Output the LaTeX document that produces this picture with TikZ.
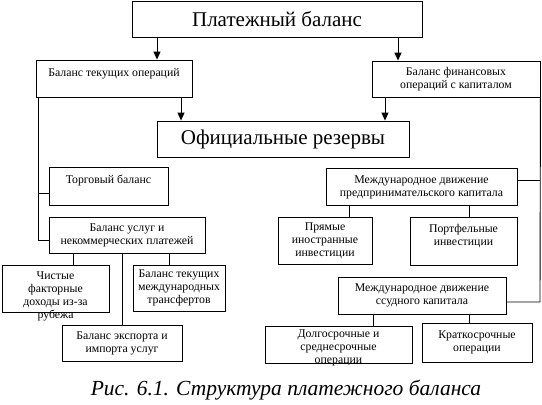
\documentclass[tikz,border=0pt]{standalone}
\usepackage{fontspec}
\setmainfont{Liberation Serif}
\usetikzlibrary{arrows.meta}
\tikzset{
  box/.style={draw,line width=0.9pt,inner sep=1pt,align=center,font=\fontsize{11.8}{13}\selectfont},
  bigbox/.style={box,font=\fontsize{21}{24}\selectfont},
  boxtext/.style={inner sep=0pt,align=center,font=\fontsize{11.8}{13}\selectfont},
  arrowline/.style={-{Triangle[length=8pt,width=7pt]},line width=0.9pt},
  linkline/.style={line width=0.9pt},
}

\begin{document}
\begin{tikzpicture}[x=1pt,y=-1pt]
    \useasboundingbox (0,0) rectangle (542,405);

    \node[bigbox,minimum width=290pt,minimum height=36pt] (top) at (277,19) {Платежный баланс};
    \node[box,minimum width=156pt,minimum height=37pt] (cur) at (114,78.5) {Баланс текущих операций\\ \mbox{}};
    \node[box,minimum width=168pt,minimum height=36pt] (fin) at (456,79) {Баланс финансовых\\операций с капиталом};
    \node[bigbox,minimum width=252pt,minimum height=36pt] (res) at (283,139) {Официальные резервы};

    % left branch
    \node[box,minimum width=119pt,minimum height=38pt] (trade) at (108.5,186) {Торговый баланс\\ \mbox{}};
    \node[box,minimum width=156pt,minimum height=36pt] (serv) at (127,235) {Баланс услуг и\\некоммерческих платежей};
    \node[box,minimum width=107pt,minimum height=47pt] (net) at (55.5,288.5) {};
    \node[boxtext,anchor=north] (nettext) at (55.5,272) {Чистые\\факторные\\доходы из-за\\рубежа};
    \node[box,minimum width=92pt,minimum height=46pt] (trans) at (179,288) {Баланс текущих\\международных\\трансфертов};
    \node[box,minimum width=120pt,minimum height=36pt] (exp) at (122,343) {Баланс экспорта и\\импорта услуг};

    % right branch
    \node[box,minimum width=191pt,minimum height=37pt] (ent) at (421.5,187) {Международное движение\\предпринимательского капитала};
    \node[box,minimum width=94pt,minimum height=47pt] (direct) at (325,240.5) {Прямые\\иностранные\\инвестиции};
    \node[box,minimum width=107pt,minimum height=48pt] (port) at (463.5,241) {Портфельные\\инвестиции\\ \mbox{}};
    \node[box,minimum width=168pt,minimum height=37pt] (loan) at (422,295.5) {Международное движение\\ссудного капитала};
    \node[box,minimum width=147pt,minimum height=37pt] (long) at (338.5,344.5) {};
    \node[boxtext,anchor=north] (longtext) at (338.5,330) {Долгосрочные и\\среднесрочные\\операции};
    \node[box,minimum width=110pt,minimum height=39pt] (short) at (477,342.5) {Краткосрочные\\операции};

    \node[font=\fontsize{21.5}{26}\selectfont\itshape] (caption) at (286,390) {Рис. 6.1. Структура платежного баланса};

    \draw[arrowline] (157,0 |- top.south) -- (157,0 |- cur.north);
    \draw[arrowline] (398,0 |- top.south) -- (398,0 |- fin.north);
    \draw[arrowline] (181,0 |- cur.south) -- (181,0 |- res.north);
    \draw[arrowline] (385,0 |- fin.south) -- (385,0 |- res.north);

    \coordinate (lbus1) at (38,193);
    \coordinate (lbus2) at (38,240);
    \draw[linkline] (38,0 |- cur.south) -- (lbus2) -- (lbus2 -| serv.west);
    \draw[linkline] (lbus1) -- (lbus1 -| trade.west);
    \draw[linkline] (73,0 |- serv.south) -- (73,0 |- net.north);
    \draw[linkline] (122,0 |- serv.south) -- (122,0 |- exp.north);
    \draw[linkline] (169,0 |- serv.south) -- (169,0 |- trans.north);

    \coordinate (rbus1) at (540,180);
    \coordinate (rbus2) at (540,302);
    \draw[linkline] (fin.south east) -- (rbus2) -- (rbus2 -| loan.east);
    \draw[linkline] (rbus1) -- (rbus1 -| ent.east);
    \draw[linkline] (349,0 |- ent.south) -- (349,0 |- direct.north);
    \draw[linkline] (469,0 |- ent.south) -- (469,0 |- port.north);
    \draw[linkline] (373,0 |- loan.south) -- (373,0 |- long.north);
    \draw[linkline] (469,0 |- loan.south) -- (469,0 |- short.north);
\end{tikzpicture}
\end{document}
